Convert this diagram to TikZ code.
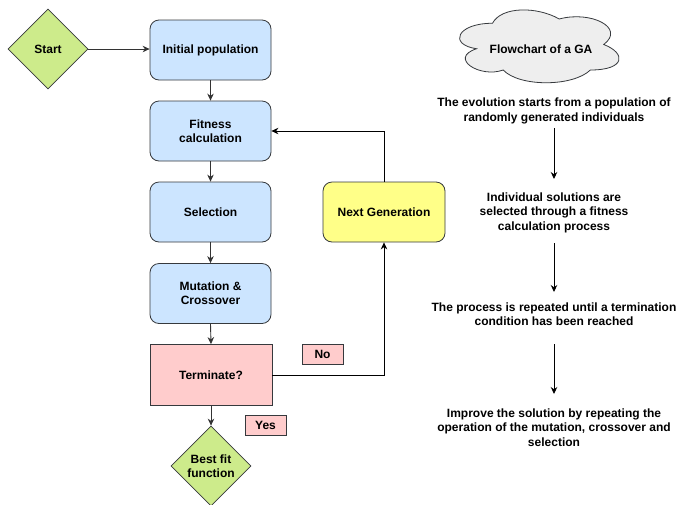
\documentclass[tikz,border=0pt]{standalone}
\usepackage{fontspec}
\setmainfont{Liberation Sans}
\usetikzlibrary{shapes.geometric,arrows.meta}
\definecolor{bluef}{HTML}{CCE5FF}
\definecolor{greenf}{HTML}{CDEB8B}
\definecolor{pinkf}{HTML}{FFCCCC}
\definecolor{yellowf}{HTML}{FFFF88}
\definecolor{grayf}{HTML}{EEEEEE}
\definecolor{strokec}{HTML}{36393D}
\definecolor{linec}{HTML}{333333}
\begin{document}
\begin{tikzpicture}[x=1pt,y=-1pt,
  font=\fontsize{12}{14.4}\selectfont\bfseries,
  box/.style={draw=strokec, fill=bluef, rounded corners=9pt, minimum width=121pt, minimum height=60pt, inner sep=0pt, align=center, line width=0.8pt},
  dia/.style={diamond, draw=strokec, fill=greenf, minimum width=80pt, minimum height=80pt, aspect=1, inner sep=0pt, align=center, line width=0.8pt},
  lbl/.style={draw=strokec, fill=pinkf, minimum width=41pt, minimum height=20pt, inner sep=0pt, line width=0.8pt},
  arr/.style={-{Stealth[length=7pt,width=6.5pt]}, line width=0.9pt, draw=linec},
  cloudshape/.style={draw=strokec, fill=grayf, line width=0.8pt},
  txt/.style={align=center, inner sep=0pt}]
\useasboundingbox[fill=white] (0,0) rectangle (679,504);

\node[dia] (start) at (48,49) {Start};
\node[box] (init) at (210.5,50) {Initial population};
\node[box] (fit) at (210.5,131) {Fitness\\calculation};
\node[box] (sel) at (210.5,212) {Selection};
\node[box] (mut) at (210.5,293.5) {Mutation \&\\Crossover};
\node[box, rounded corners=0pt, fill=pinkf, minimum height=61pt, minimum width=122pt] (term) at (211,375) {Terminate?};
\node[dia] (best) at (211,466) {Best fit\\function};
\node[box, fill=yellowf, minimum width=122pt] (next) at (384,212) {Next Generation};
\node[lbl] (no) at (322.5,354) {No};
\node[lbl] (yes) at (265.5,425.5) {Yes};

% cloud outline (draw.io style cloud)
\begin{scope}[shift={(448,2)}, x=178pt, y=-85pt]
\path[cloudshape] (0.25,0.25)
  .. controls (0.05,0.25) and (0,0.5) .. (0.16,0.55)
  .. controls (0,0.66) and (0.18,0.9) .. (0.31,0.8)
  .. controls (0.4,1) and (0.7,1) .. (0.8,0.8)
  .. controls (1,0.8) and (1,0.6) .. (0.875,0.5)
  .. controls (1,0.3) and (0.8,0.1) .. (0.625,0.2)
  .. controls (0.5,0.05) and (0.3,0.05) .. (0.25,0.25) -- cycle;
\end{scope}
\node[txt] (cloud) at (541,49) {Flowchart of a GA};

\node[txt] (t1) at (554,111) {The evolution starts from a population of\\randomly generated individuals};
\node[txt] (t2) at (554,212.5) {Individual solutions are\\selected through a fitness\\calculation process};
\node[txt] (t3) at (554,314.5) {The process is repeated until a termination\\condition has been reached};
\node[txt] (t4) at (554,427.5) {Improve the solution by repeating the\\operation of the mutation, crossover and\\selection};

\coordinate (a1s) at (554,128);
\coordinate (a1e) at (554,179);
\coordinate (a2s) at (554,243);
\coordinate (a2e) at (554,292);
\coordinate (a3s) at (554,344);
\coordinate (a3e) at (554,394);
\draw[arr, draw=black] (a1s) -- (a1e);
\draw[arr, draw=black] (a2s) -- (a2e);
\draw[arr, draw=black] (a3s) -- (a3e);

\draw[arr] (start.east) -- (init.west |- start.east);
\draw[arr] (init.south) -- (fit.north);
\draw[arr] (fit.south) -- (sel.north);
\draw[arr] (sel.south) -- (mut.north);
\draw[arr] (mut.south) -- (term.north);
\draw[arr] (term.south) -- (best.north);
\draw[arr, draw=black] (term.east) -| (next.south);
\draw[arr, draw=black] (next.north) |- (fit.east);
\end{tikzpicture}
\end{document}
